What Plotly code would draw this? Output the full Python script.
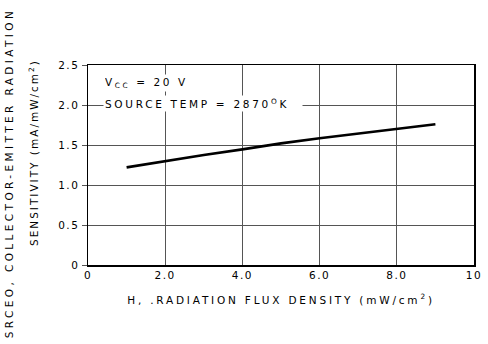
import plotly.graph_objects as go

# Data
flux_density = [1.0, 2.0, 3.0, 4.0, 5.0, 6.0, 7.0, 8.0, 9.0]
sensitivity = [1.22, 1.30, 1.375, 1.445, 1.52, 1.585, 1.645, 1.70, 1.76]

x_tickvals = [0, 2, 4, 6, 8, 10]
x_ticktext = ["0", "2.0", "4.0", "6.0", "8.0", "10"]
y_tickvals = [0, 0.5, 1.0, 1.5, 2.0, 2.5]
y_ticktext = ["0", "0.5", "1.0", "1.5", "2.0", "2.5"]

FONT = "DejaVu Sans"
W, H = 488, 344
ML, MR, MT, MB = 88, 7, 65, 79
PW, PH = W - ML - MR, H - MT - MB


def px2paper(x, y):
    # page pixel -> paper coords
    return (x - ML) / PW, (H - MB - y) / PH


fig = go.Figure()
fig.add_trace(go.Scatter(x=flux_density, y=sensitivity, mode="lines",
                         line=dict(color="black", width=2.6), showlegend=False,
                         hoverinfo="skip"))

ax1 = px2paper(8, 173)
ax2 = px2paper(32, 152)

fig.update_layout(
    width=W, height=H,
    margin=dict(l=ML, r=MR, t=MT, b=MB),
    paper_bgcolor="white", plot_bgcolor="white",
    font=dict(family=FONT, size=10.5, color="black"),
    xaxis=dict(range=[0, 10], tickvals=x_tickvals, ticktext=x_ticktext,
               showgrid=True, gridcolor="#555", gridwidth=1,
               showline=True, linecolor="black", linewidth=1.5, mirror=True,
               zeroline=False, ticks="", tickfont=dict(size=10.5, family=FONT),
               title=dict(text="H, .RADIATION FLUX DENSITY (mW/cm<sup>2</sup>)",
                          font=dict(size=10.5, family=FONT), standoff=16)),
    yaxis=dict(range=[0, 2.5], tickvals=y_tickvals, ticktext=y_ticktext,
               showgrid=True, gridcolor="#555", gridwidth=1,
               showline=True, linecolor="black", linewidth=1.5, mirror=True,
               zeroline=False, ticks="outside", ticklen=5, tickcolor="#555",
               tickfont=dict(size=10.5, family=FONT)),
    annotations=[
        dict(text="V<sub>CC</sub> = 20 V", x=0.38, y=2.27, xref="x", yref="y",
             xanchor="left", yanchor="middle", showarrow=False, width=100, align="left",
             bgcolor="white", font=dict(size=10.5, family=FONT)),
        dict(text="SOURCE TEMP = 2870<sup>O</sup>K", x=0.38, y=2.02, xref="x", yref="y",
             xanchor="left", yanchor="middle", showarrow=False, width=196, align="left",
             bgcolor="white", font=dict(size=10.5, family=FONT)),
        dict(text="SRCEO, COLLECTOR-EMITTER RADIATION", x=ax1[0], y=ax1[1],
             xref="paper", yref="paper", showarrow=False, textangle=-90,
             xanchor="center", yanchor="middle", font=dict(size=10.5, family=FONT)),
        dict(text="SENSITIVITY (mA/mW/cm<sup>2</sup>)", x=ax2[0], y=ax2[1],
             xref="paper", yref="paper", showarrow=False, textangle=-90,
             xanchor="center", yanchor="middle", font=dict(size=10.5, family=FONT)),
    ],
)

post = """
document.body.style.margin = '0';
var gd = document.getElementById('{plot_id}');
function ls(sel, v){ gd.querySelectorAll(sel).forEach(function(t){ t.style.letterSpacing = v; }); }
ls('.xtick text', '1.5px');
ls('.ytick text', '1.5px');
ls('text.xtitle', '2.8px');
var ann = gd.querySelectorAll('text.annotation-text');
var sp = ['2.6px', '2.7px', '3.4px', '2.0px'];
ann.forEach(function(t, i){ t.style.letterSpacing = sp[i] || '2px'; });
"""

fig.write_html("out.html", post_script=post,
               config={"displayModeBar": False, "staticPlot": True})
